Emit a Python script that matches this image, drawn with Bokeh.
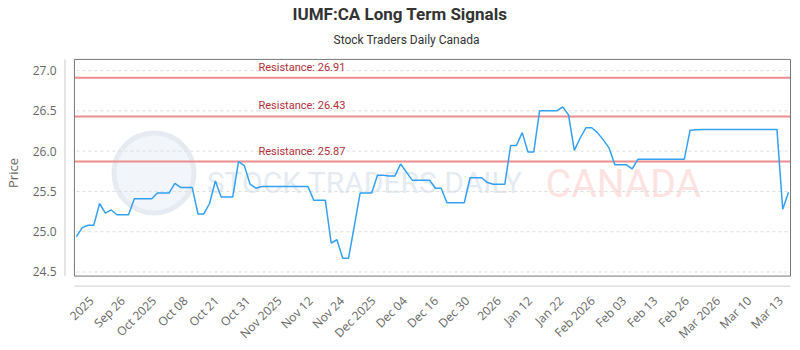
import math
import numpy as np
from bokeh.plotting import figure
from bokeh.models import FixedTicker, Label, Title, NumeralTickFormatter
from bokeh.embed import file_html
from bokeh.resources import INLINE
from bokeh.core.properties import value

# Daily closing prices, one value per trading session
price = [
    24.94, 25.05, 25.08, 25.08, 25.35, 25.23, 25.27, 25.21, 25.21, 25.21,
    25.41, 25.41, 25.41, 25.41, 25.48, 25.48, 25.48, 25.60, 25.55, 25.55,
    25.55, 25.22, 25.22, 25.35, 25.63, 25.43, 25.43, 25.43, 25.87, 25.82,
    25.59, 25.54, 25.56, 25.56, 25.56, 25.56, 25.56, 25.56, 25.56, 25.56,
    25.56, 25.39, 25.39, 25.39, 24.86, 24.90, 24.67, 24.67, 25.07, 25.48,
    25.48, 25.48, 25.70, 25.70, 25.69, 25.69, 25.84, 25.74, 25.64, 25.64,
    25.64, 25.64, 25.54, 25.54, 25.36, 25.36, 25.36, 25.36, 25.67, 25.67,
    25.67, 25.61, 25.59, 25.59, 25.59, 26.07, 26.07, 26.23, 25.99, 25.99,
    26.50, 26.50, 26.50, 26.50, 26.55, 26.45, 26.01, 26.16, 26.29, 26.29,
    26.23, 26.14, 26.04, 25.83, 25.83, 25.83, 25.78, 25.90, 25.90, 25.90,
    25.90, 25.90, 25.90, 25.90, 25.90, 25.90, 26.26, 26.265, 26.27, 26.27,
    26.27, 26.27, 26.27, 26.27, 26.27, 26.27, 26.27, 26.27, 26.27, 26.27,
    26.27, 26.27, 25.28, 25.49,
]
sessions = list(range(len(price)))

tick_labels = [
    "2025", "Sep 26", "Oct 2025", "Oct 08", "Oct 21", "Oct 31", "Nov 2025",
    "Nov 12", "Nov 24", "Dec 2025", "Dec 04", "Dec 16", "Dec 30", "2026",
    "Jan 12", "Jan 22", "Feb 2026", "Feb 03", "Feb 13", "Feb 26", "Mar 2026",
    "Mar 10", "Mar 13",
]
resistance_levels = [26.91, 26.43, 25.87]
price_ticks = [24.5, 25.0, 25.5, 26.0, 26.5, 27.0]

# ---- canvas geometry (pixels) ----
W, H = 800, 350
FL, FR, FT, FB = 56, 793, 57, 299          # plotting frame edges
BOX_L, BOX_R, BOX_T, BOX_B = 70, 790, 59, 286  # framed chart box
FIRST_PX, LAST_PX = 72, 788                # first / last session
Y_REF_PX, Y_REF, PX_PER_UNIT = 70.7, 27.0, 84.4
TICK_PX_FIRST, TICK_PX_LAST = 87, 780

n = len(price)
step = (LAST_PX - FIRST_PX) / (n - 1)


def xd(px):
    return (px - FIRST_PX) / step


def yd(py):
    return Y_REF - (py - Y_REF_PX) / PX_PER_UNIT


p = figure(
    width=W, height=H, title=None,
    x_range=(xd(FL), xd(FR)), y_range=(yd(FB), yd(FT)),
    output_backend="svg", toolbar_location=None,
    min_border_left=FL, min_border_right=W - FR,
    min_border_top=FT, min_border_bottom=H - FB,
    background_fill_color="white", border_fill_color="white",
)
p.outline_line_color = None
p.xgrid.grid_line_color = None
p.ygrid.grid_line_color = None

# ---- faint watermark ----
p.scatter([xd(150)], [yd(178)], marker="circle", size=80,
          fill_color="#f2f5f9", fill_alpha=1.0,
          line_color="#e6ebf2", line_width=5)
p.text([xd(203)], [yd(188)], text=["STOCK TRADERS DAILY"],
       text_font=value("Roboto"), text_font_size="30px",
       text_color="#e5ebf2", text_baseline="middle", text_align="left")
p.text([xd(544)], [yd(190)], text=["CANADA"],
       text_font=value("Roboto"), text_font_size="39px",
       text_color="#fde2e2", text_baseline="middle", text_align="left")

# ---- dashed horizontal grid ----
p.segment(x0=[xd(BOX_L + 2)] * len(price_ticks), x1=[xd(BOX_R - 2)] * len(price_ticks),
          y0=price_ticks, y1=price_ticks,
          line_color="#dddddd", line_width=1, line_dash="3 3")

# ---- offset axis lines ----
p.segment(x0=[xd(60.5)], x1=[xd(60.5)], y0=[yd(BOX_T)], y1=[yd(BOX_B)],
          line_color="#cccccc", line_width=1)
p.segment(x0=[xd(BOX_L)], x1=[xd(BOX_R)], y0=[yd(296.5)], y1=[yd(296.5)],
          line_color="#cccccc", line_width=1)

# ---- resistance levels ----
p.segment(x0=[xd(BOX_L)] * len(resistance_levels), x1=[xd(BOX_R)] * len(resistance_levels),
          y0=resistance_levels, y1=resistance_levels,
          line_color="#ec8e8e", line_width=2)
for lvl in resistance_levels:
    p.add_layout(Label(x=xd(255), y=lvl, y_offset=4, text=f"Resistance: {lvl:.2f}",
                       text_font="Roboto", text_font_size="11px",
                       text_color="#b3303a", text_baseline="bottom"))

# ---- price line ----
p.line(sessions, price, line_color="#33a0f2", line_width=1.5)

# ---- box around chart ----
p.quad(left=[xd(BOX_L)], right=[xd(BOX_R)], bottom=[yd(BOX_B)], top=[yd(BOX_T)],
       fill_alpha=0, line_color="#777777", line_width=1)

# ---- axes ----
tick_pos = [round(float(xd(v)), 3) for v in np.linspace(TICK_PX_FIRST, TICK_PX_LAST, len(tick_labels))]
p.xaxis.ticker = FixedTicker(ticks=tick_pos)
p.xaxis.major_label_overrides = {tp: lab for tp, lab in zip(tick_pos, tick_labels)}
p.xaxis.major_label_orientation = math.pi / 4
p.xaxis.axis_line_color = None
p.xaxis.major_tick_line_color = None
p.xaxis.minor_tick_line_color = None
p.xaxis.major_tick_out = 0
p.xaxis.major_tick_in = 0
p.xaxis.major_label_standoff = 10
p.xaxis.major_label_text_font = "Open Sans"
p.xaxis.major_label_text_font_size = "12px"
p.xaxis.major_label_text_color = "#666666"

p.yaxis.ticker = FixedTicker(ticks=price_ticks)
p.yaxis.formatter = NumeralTickFormatter(format="0.0")
p.yaxis.axis_line_color = None
p.yaxis.major_tick_line_color = None
p.yaxis.minor_tick_line_color = None
p.yaxis.major_tick_out = 0
p.yaxis.major_tick_in = 0
p.yaxis.major_label_standoff = 4
p.yaxis.major_label_text_font = "Open Sans"
p.yaxis.major_label_text_font_size = "12px"
p.yaxis.major_label_text_color = "#666666"
p.yaxis.axis_label = "Price"
p.yaxis.axis_label_standoff = 8
p.yaxis.axis_label_text_font = "Open Sans"
p.yaxis.axis_label_text_font_size = "13px"
p.yaxis.axis_label_text_font_style = "normal"
p.yaxis.axis_label_text_color = "#666666"

# ---- titles (subtitle first so it sits closest to the chart) ----
p.add_layout(Title(text="Stock Traders Daily Canada", align="left", offset=273,
                   text_font="Roboto", text_font_size="12px", text_font_style="normal",
                   text_color="#333333", standoff=22), "above")
p.add_layout(Title(text="IUMF:CA Long Term Signals", align="left", offset=232,
                   text_font="Roboto", text_font_size="17px", text_font_style="bold",
                   text_color="#333333", standoff=-8), "above")

open("out.html", "w").write(file_html(p, INLINE))
